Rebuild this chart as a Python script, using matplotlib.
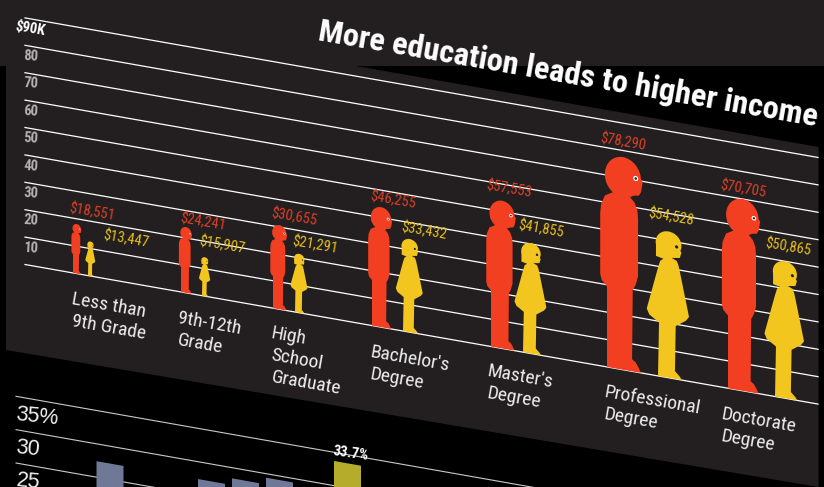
import numpy as np
import matplotlib
matplotlib.use("Agg")
import matplotlib.pyplot as plt
from matplotlib.patches import Polygon, Ellipse
from matplotlib.transforms import Affine2D

degrees = ["Less than\n9th Grade", "9th-12th\nGrade", "High\nSchool\nGraduate", "Bachelor's\nDegree",
           "Master's\nDegree", "Professional\nDegree", "Doctorate\nDegree"]
men = [18551, 24241, 30655, 46255, 57553, 78290, 70705]
women = [13447, 15907, 21291, 33432, 41855, 54528, 50865]
men_height = [18100, 24000, 30700, 43800, 53900, 77600, 70000]
women_height = [12600, 14200, 21500, 34000, 40300, 53400, 50000]
income_ticks = [10, 20, 30, 40, 50, 60, 70, 80]

# lower chart, cut off by the bottom of the picture
share_values = [27.4, 27.4, 28.4, 29.4, 33.7]
share_colors = ["#6f7896", "#6f7896", "#6f7896", "#6f7896", "#b5ac2b"]
share_ticks = [25, 30, 35]

# where things stand along the sloped axis (pixels across)
men_x = [73, 181, 273, 372, 491, 607, 728]
women_x = [88, 202, 295, 403, 523, 658, 775]
men_label_x = [92, 203, 294, 393, 509, 623, 743]
men_label_dy = [14, 8, 10, 9, 13, 15, 10]
women_label_x = [126, 222, 315, 424, 541, 671, 788]
women_label_dy = [8, 15, 11, 10, 16, 15, 14]
degree_x = [73, 179, 273, 372, 489, 606, 723]
degree_y = [290, 309, 324, 343, 362, 383, 405]
share_x = [96.5, 198, 232, 266, 334]

BLACK = "#000000"
DARK = "#231f20"
RED = "#f33f21"
YELLOW = "#f2c61f"
RED_TXT = "#dc3f28"
YEL_TXT = "#e6bf1e"
SLOPE = 0.176
PX_PER_USD = 27.4 / 10000
PX_PER_PCT = 33.35 / 5

# outlines as fractions of the figure height
man_u = [0, .159, .150, .135, .118, .121, .135, .146, .146, .143, .130, .108, .112, .150, .160, .168, .10, 0, -.005, .02, .032,
         -.01, -.028, -.032, -.032, -.025, 0]
man_v = [0, 0, .02, .045, .057, .382, .41, .452, .72, .76, .795, .818, .825, .832, .85, .90, .95, .90, .87, .84, .829,
         .805, .76, .717, .434, .405, .379]
woman_u = [0, .162, .150, .116, .121, .19, .212, .151, .14, .128, .094, .149, .160, .10, -.014, -.014, .037, .015, 0, -.077, -.06, .007]
woman_v = [0, 0, .02, .053, .362, .41, .44, .73, .78, .808, .823, .832, .87, .95, .915, .818, .807, .79, .74, .448, .41, .366]

plt.rcParams["font.family"] = ["Roboto Condensed", "DejaVu Sans"]

fig = plt.figure(figsize=(8.24, 4.87), dpi=100, facecolor=BLACK)
ax = fig.add_axes([0, 0, 1, 1])
ax.set_xlim(0, 824)
# dollars, zero line is 260 px down at the left edge
ax.set_ylim(-(487 - 260.1) / PX_PER_USD, 260.1 / PX_PER_USD)
ax.axis("off")
shear = Affine2D.from_values(1, -SLOPE / PX_PER_USD, 0, 1, 0, 0) + ax.transData

# background panels
ax.add_patch(Polygon([(0, 1), (1, 1), (1, 1 - 66 / 487), (0, 1 - 66 / 487)], transform=ax.transAxes, fc=DARK, ec="none", zorder=0))
ax.add_patch(Polygon([(6 / 824, 1 - 60 / 487), (350 / 824, 1 - 60 / 487), (350 / 824, 1 - 65 / 487), (818.5 / 824, 1 - 147 / 487),
                      (818.5 / 824, 1 - 487 / 487), (6 / 824, 1 - 350 / 487)], transform=ax.transAxes, fc=DARK, ec="none", zorder=0))

# grid
for v in [0] + income_ticks + [90]:
    ax.plot([25, 818], [v * 1000, v * 1000], color="white", lw=0.9, transform=shear, zorder=1)
for v in income_ticks:
    ax.annotate(str(v), (25, v * 1000), xytext=(6, -11), textcoords="offset pixels", color="#b4b2b2", fontsize=10.5,
                fontweight="bold", ha="center", va="center", rotation=-3, rotation_mode="anchor", xycoords=shear, zorder=2)
ax.annotate("$90K", (25, 90000), xytext=(5, -11), textcoords="offset pixels", color="white", fontsize=10.5, fontweight="bold",
            ha="center", va="center", rotation=-10, rotation_mode="anchor", xycoords=shear, zorder=2)


def person(x0, value, us, vs, head, color):
    h = value * PX_PER_USD
    pts = [(x0 + u * h, v * value) for u, v in zip(us, vs)]
    ax.add_patch(Polygon(pts, closed=True, fc=color, ec="none", transform=shear, zorder=3))
    ax.add_patch(Ellipse((x0 + head[0] * h, head[1] * value), 2 * head[2] * h, 2 * head[3] * value, fc=color, ec="none", transform=shear, zorder=3))


for x0, value in zip(men_x, men_height):
    person(x0, value, man_u, man_v, (.075, .905, .085, .095), RED)
    h = value * PX_PER_USD
    ax.add_patch(Ellipse((x0 + .135 * h, .91 * value), .024 * h, .024 * value, fc="white", ec="none", transform=shear, zorder=4))
    ax.add_patch(Ellipse((x0 + .135 * h, .91 * value), .012 * h, .012 * value, fc=DARK, ec="none", transform=shear, zorder=5))

for x0, value in zip(women_x, women_height):
    person(x0, value, woman_u, woman_v, (.072, .915, .088, .085), YELLOW)
    h = value * PX_PER_USD
    ax.add_patch(Ellipse((x0 + .127 * h, .904 * value), .022 * h, .022 * value, fc=DARK, ec="none", transform=shear, zorder=4))

for lx, value, tall, dy in zip(men_label_x, men, men_height, men_label_dy):
    ax.annotate("${:,}".format(value), (lx, tall), xytext=(0, dy), textcoords="offset pixels", color=RED_TXT, fontsize=10.5,
                ha="center", va="center", rotation=-10, rotation_mode="anchor", xycoords=shear, zorder=6)
for lx, value, tall, dy in zip(women_label_x, women, women_height, women_label_dy):
    ax.annotate("${:,}".format(value), (lx, tall), xytext=(0, dy), textcoords="offset pixels", color=YEL_TXT, fontsize=10.5,
                ha="center", va="center", rotation=-10, rotation_mode="anchor", xycoords=shear, zorder=6)

# degree names sit under the sloped base line, each line starts at the same x
for name, lx, ly in zip(degrees, degree_x, degree_y):
    for i, line in enumerate(name.split("\n")):
        ax.text(lx / 824, 1 - (ly + 22 * i) / 487, line, transform=ax.transAxes, color="#ececec", fontsize=14, ha="left", va="top",
                rotation=-10, rotation_mode="anchor", zorder=6)

ax.text(317 / 824, 1 - 40 / 487, "More education leads to higher income", transform=ax.transAxes, color="white", fontsize=23.4,
        fontweight="bold", ha="left", va="baseline", rotation=-9.8, rotation_mode="anchor", zorder=6)

# lower chart, own axes in percent
ax2 = fig.add_axes([0, 0, 1, 1])
ax2.patch.set_alpha(0)
ax2.set_xlim(0, 824)
ax2.set_ylim(35 - (487 - 393.5) / PX_PER_PCT, 35 + 393.5 / PX_PER_PCT)
ax2.axis("off")
shear2 = Affine2D.from_values(1, -SLOPE / PX_PER_PCT, 0, 1, 0, 0) + ax2.transData

for v in share_ticks:
    ax2.plot([16, 824], [v, v], color="#c9c9c9", lw=0.8, transform=shear2, zorder=1)
    txt = "35%" if v == 35 else str(v)
    ax2.annotate(txt, (16, v), xytext=(0, -18), textcoords="offset pixels", color="#f0f0f0", fontsize=15.5,
                 family=["Liberation Sans", "DejaVu Sans"], ha="left", va="center", rotation=-6, rotation_mode="anchor",
                 xycoords=shear2, zorder=2)

ax2.bar(share_x, share_values, width=27, align="edge", color=share_colors, transform=shear2, zorder=3)
ax2.set_xlim(0, 824)
ax2.set_ylim(35 - (487 - 393.5) / PX_PER_PCT, 35 + 393.5 / PX_PER_PCT)
ax2.annotate("{}%".format(share_values[-1]), (share_x[-1] + 17, share_values[-1]), xytext=(0, 10), textcoords="offset pixels",
             color="white", fontsize=10.5, fontweight="bold", ha="center", va="center", rotation=-8, rotation_mode="anchor",
             xycoords=shear2, zorder=4)

fig.savefig("out.png", dpi=100, facecolor=BLACK)
